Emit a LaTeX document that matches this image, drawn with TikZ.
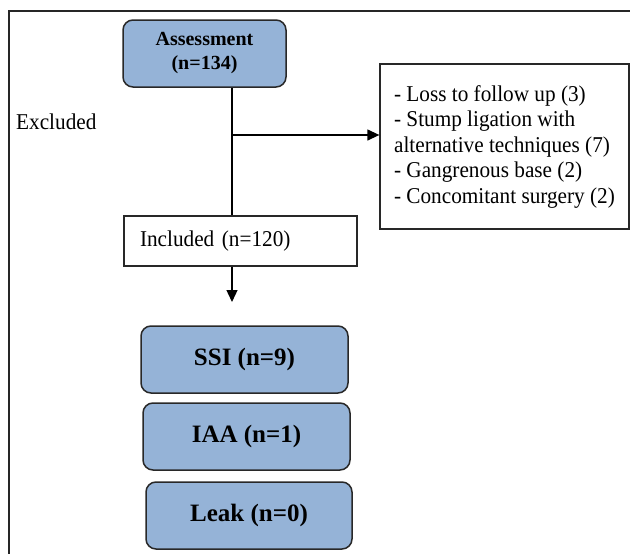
\documentclass[tikz,border=0pt]{standalone}
\usepackage{fontspec}
\setmainfont{Liberation Serif}
\newfontfamily\bodyfont{Liberation Serif}[FakeStretch=0.94]
\usetikzlibrary{arrows.meta}
\definecolor{boxblue}{RGB}{149,179,215}
\definecolor{edgegray}{RGB}{40,40,40}
\begin{document}
\begin{tikzpicture}[x=1pt,y=-1pt,
  outcome/.style={draw=edgegray, line width=1.5pt, fill=boxblue, rounded corners=10pt, inner sep=0pt,
    minimum width=207pt, minimum height=67pt, font=\fontsize{25}{30}\selectfont\bfseries},
  plainbox/.style={draw=edgegray, line width=1.3pt, inner sep=0pt},
  link/.style={draw=black, line width=1.3pt},
  tipped/.style={-{Triangle[length=12pt,width=11pt]}},
  framed/.style={draw=black!85, line width=2.7pt},
  bodytext/.style={font=\bodyfont\fontsize{22.6}{25.5}\selectfont}]
\useasboundingbox (0,0) rectangle (630,554);
\draw[framed] (631,11) -- (9,11) -- (9,555);

\node[outcome, minimum width=163pt, minimum height=67pt, align=center,
  font=\fontsize{20}{24}\selectfont\bfseries] (assess) at (204.5,53.5) {Assessment\\(n=134)};

\node[bodytext, anchor=west, inner sep=0pt] (exlabel) at (16,122) {Excluded};

\node[plainbox, bodytext, minimum width=249pt, minimum height=165pt, align=left] (excl) at (504.5,146.5)
  {- Loss to follow up (3)\\- Stump ligation with\\alternative techniques (7)\\- Gangrenous base (2)\\- Concomitant surgery (2)};

\node[plainbox, bodytext, minimum width=233pt, minimum height=50pt, text width=201pt, inner xsep=16pt, align=left]
  (incl) at (240.5,241) {Included (n=120)};

\coordinate (trunk) at (232,135);
\coordinate (tipend) at (232,302);
\draw[link] (assess.south -| trunk) -- (incl.north -| trunk);
\draw[link, tipped] (trunk) -- (trunk -| excl.west);
\draw[link, tipped] (incl.south -| trunk) -- (tipend);

\node[outcome] (ssi) at (244.5,359.5) {SSI (n=9)};
\node[outcome] (iaa) at (246.5,436.5) {IAA (n=1)};
\node[outcome, minimum width=206pt] (leak) at (249,515.5) {Leak (n=0)};
\end{tikzpicture}
\end{document}
